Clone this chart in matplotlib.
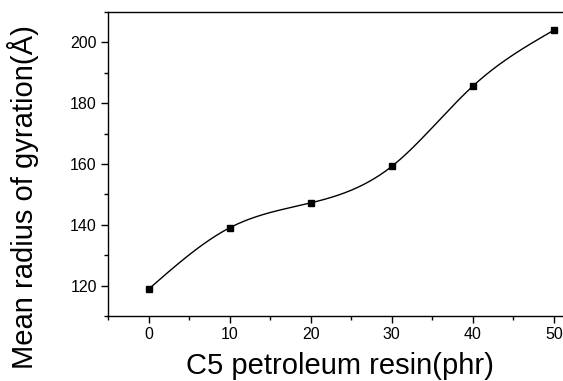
import numpy as np
import matplotlib.pyplot as plt

plt.rcParams['font.family'] = ['Liberation Sans', 'DejaVu Sans']

# data
resin = [0, 10, 20, 30, 40, 50]
rg = [118.8, 139.0, 147.2, 159.2, 185.6, 204.0]

xticks = [0, 10, 20, 30, 40, 50]
yticks = [120, 140, 160, 180, 200]


def natural_spline(x, y, n=300):
    # plain natural cubic spline for the smooth connecting line
    x = np.asarray(x, float)
    y = np.asarray(y, float)
    k = len(x)
    h = np.diff(x)
    A = np.zeros((k, k))
    r = np.zeros(k)
    A[0, 0] = 1
    A[-1, -1] = 1
    for i in range(1, k - 1):
        A[i, i - 1] = h[i - 1]
        A[i, i] = 2 * (h[i - 1] + h[i])
        A[i, i + 1] = h[i]
        r[i] = 3 * ((y[i + 1] - y[i]) / h[i] - (y[i] - y[i - 1]) / h[i - 1])
    c = np.linalg.solve(A, r)
    xs = np.linspace(x[0], x[-1], n)
    ys = np.empty_like(xs)
    for j, xv in enumerate(xs):
        i = min(np.searchsorted(x, xv, side='right') - 1, k - 2)
        b = (y[i + 1] - y[i]) / h[i] - h[i] * (2 * c[i] + c[i + 1]) / 3
        d = (c[i + 1] - c[i]) / (3 * h[i])
        t = xv - x[i]
        ys[j] = y[i] + b * t + c[i] * t ** 2 + d * t ** 3
    return xs, ys


fig = plt.figure(figsize=(5.63, 3.81), dpi=100)
ax = fig.add_axes([0.1918, 0.1706, 0.864, 0.798])

xs, ys = natural_spline(resin, rg)
ax.plot(xs, ys, color='black', lw=1.0)
ax.plot(resin, rg, 's', color='black', ms=4.5)

ax.set_xlim(-5, 55)
ax.set_ylim(110, 210)
ax.set_xticks(xticks)
ax.set_yticks(yticks)
ax.set_xticks(np.arange(-5, 56, 5), minor=True)
ax.set_yticks(np.arange(110, 211, 10), minor=True)
ax.tick_params(which='major', direction='out', length=5, width=1, labelsize=11.5, pad=3)
ax.tick_params(which='minor', direction='out', length=3, width=1)
for s in ax.spines.values():
    s.set_linewidth(1.0)

ax.set_xlabel('C5 petroleum resin(phr)', fontsize=21)
ax.set_ylabel('Mean radius of gyration(Å)', fontsize=21)
ax.xaxis.set_label_coords(0.477, -0.12)
ax.yaxis.set_label_coords(-0.142, 0.39)

fig.savefig('out.png', dpi=100)
